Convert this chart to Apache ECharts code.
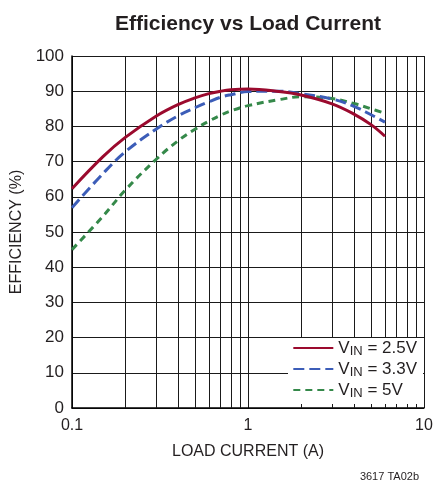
<!DOCTYPE html>
<html>
<head>
<meta charset="utf-8">
<script src="https://cdn.jsdelivr.net/npm/echarts@6/dist/echarts.min.js"></script>
<style>
  html, body { margin: 0; padding: 0; background: #fff; }
  #chart { width: 437px; height: 480px; }
</style>
</head>
<body>
<div id="chart"></div>
<script>
// load current (A)
const loadCurrent = [0.1, 0.15, 0.2, 0.3, 0.4, 0.5, 0.6, 0.7, 0.8, 1, 1.5, 2, 3, 4, 5, 6]
// efficiency (%)
const eff25 = [62.3, 71.4, 76.8, 82.9, 86.2, 88.1, 89.3, 90, 90.4, 90.6, 89.9, 88.9, 86.4, 83.5, 80.5, 77.2]
const eff33 = [56.9, 66.6, 72.7, 79.2, 83, 85.3, 87, 88.3, 89, 89.9, 90, 89.3, 87.8, 85.7, 83.3, 81.2]
const eff5 = [45, 54.5, 61.8, 70.6, 75.9, 79.2, 81.5, 83.2, 84.4, 85.9, 87.6, 88.4, 87.9, 86.5, 85, 83.7]
const seriesNames = ['2.5V', '3.3V', '5V']
// minor decade gridlines
const minorGrid = [0.2, 0.3, 0.4, 0.5, 0.6, 0.7, 0.8, 0.9, 2, 3, 4, 5, 6, 7, 8, 9]

const font = '"Liberation Sans Narrow", "Liberation Sans", Arial, sans-serif'
const ink = '#231f20'
const pair = (ys) => loadCurrent.map((x, i) => [x, ys[i]])

const chart = echarts.init(document.getElementById('chart'))

const options = {
  animation: false,
  textStyle: { fontFamily: font, color: ink },
  title: [
    {
      text: 'Efficiency vs Load Current',
      left: 243,
      top: 9,
      textAlign: 'center',
      textStyle: { fontFamily: font, fontSize: 21, fontWeight: 'bold', color: ink }
    },
    {
      text: '3617 TA02b',
      right: 13,
      top: 466,
      textStyle: { fontFamily: font, fontSize: 11, fontWeight: 'normal', color: ink }
    }
  ],
  // white box behind the legend, hides the gridlines
  graphic: [
    {
      type: 'rect',
      z: 15,
      silent: true,
      shape: { x: 288, y: 338, width: 135, height: 66 },
      style: { fill: '#fff' }
    }
  ],
  grid: { left: 72, right: 13, top: 56, bottom: 72 },
  legend: {
    z: 20,
    right: 14,
    bottom: 78,
    orient: 'vertical',
    padding: [4, 6, 2, 6],
    itemGap: 0,
    itemWidth: 40,
    itemHeight: 14,
    itemStyle: { opacity: 0 },
    data: seriesNames,
    formatter: (name) => '{v|V}{sub|IN}{v| = ' + name + '}',
    textStyle: {
      rich: {
        v: { fontFamily: font, fontSize: 17, color: ink, lineHeight: 20 },
        sub: { fontFamily: font, fontSize: 13, color: ink, lineHeight: 20, verticalAlign: 'bottom', padding: [8, 0, 0, 0] }
      }
    }
  },
  xAxis: {
    type: 'log',
    logBase: 10,
    min: 0.1,
    max: 10,
    name: 'LOAD CURRENT (A)',
    nameLocation: 'middle',
    nameGap: 36,
    nameTextStyle: { fontFamily: font, fontSize: 16, color: ink },
    axisLine: { lineStyle: { color: '#000', width: 1.5 } },
    axisTick: { show: false },
    axisLabel: {
      fontFamily: font,
      fontSize: 16,
      color: ink,
      margin: 10,
      formatter: (v) => String(v)
    },
    splitLine: { show: true, lineStyle: { color: '#1a1a1a', width: 1 } }
  },
  yAxis: {
    type: 'value',
    min: 0,
    max: 100,
    interval: 10,
    name: 'EFFICIENCY (%)',
    nameLocation: 'middle',
    nameGap: 45,
    nameRotate: 90,
    nameTextStyle: { fontFamily: font, fontSize: 16, color: ink },
    axisLine: { show: true, lineStyle: { color: '#000', width: 1.5 } },
    axisTick: { show: false },
    axisLabel: { fontFamily: font, fontSize: 17, color: ink, margin: 8 },
    splitLine: { show: true, lineStyle: { color: '#1a1a1a', width: 1 } }
  },
  series: [
    {
      name: '2.5V',
      type: 'line',
      smooth: 0.4,
      symbol: 'none',
      z: 5,
      data: pair(eff25),
      lineStyle: { color: '#9b0a2e', width: 3 },
      itemStyle: { color: '#9b0a2e' },
      markLine: {
        silent: true,
        symbol: 'none',
        z: 1,
        label: { show: false },
        animation: false,
        lineStyle: { color: '#1a1a1a', width: 1, type: 'solid' },
        data: minorGrid.map((x) => ({ xAxis: x }))
      }
    },
    {
      name: '3.3V',
      type: 'line',
      smooth: 0.4,
      symbol: 'none',
      z: 4,
      data: pair(eff33),
      lineStyle: { color: '#3c5db8', width: 3, type: [11, 5] },
      itemStyle: { color: '#3c5db8' }
    },
    {
      name: '5V',
      type: 'line',
      smooth: 0.4,
      symbol: 'none',
      z: 3,
      data: pair(eff5),
      lineStyle: { color: '#35894a', width: 3, type: [7, 5] },
      itemStyle: { color: '#35894a' }
    }
  ]
}

chart.setOption(options)
</script>
</body>
</html>
